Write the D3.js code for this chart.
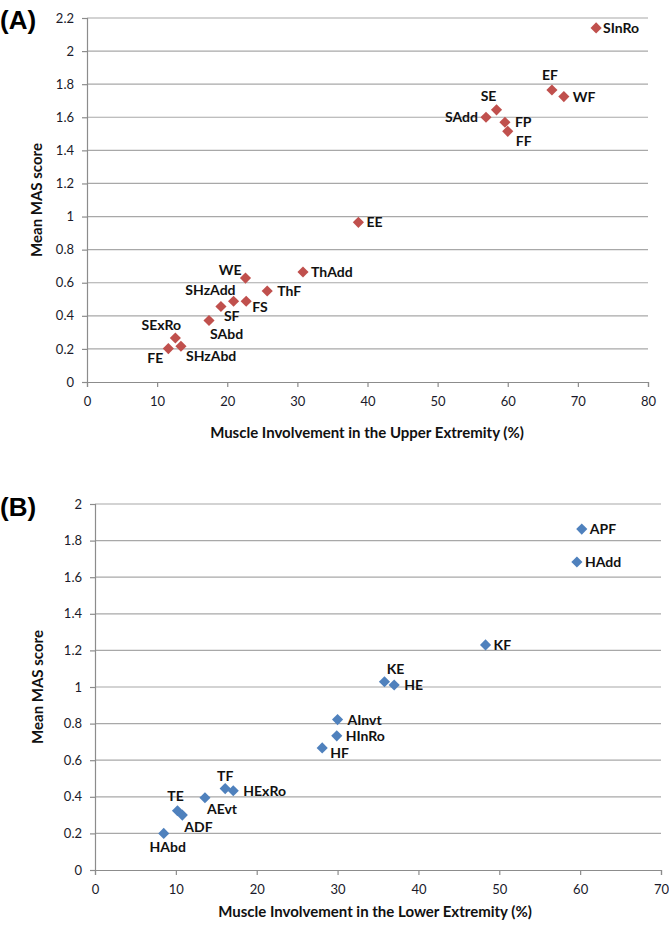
<!DOCTYPE html>
<html>
<head>
<meta charset="utf-8">
<script src="https://cdn.jsdelivr.net/npm/d3@7"></script>
<style>
  body { margin: 0; background: #fff; }
  svg { display: block; }
  .tick text { font-family: Lato, "Open Sans", sans-serif; font-size: 13px; fill: #1a1a2a; }
  .ptlabel { font-family: Lato, sans-serif; font-weight: bold; font-size: 14px; fill: #111; }
  .axtitle { font-family: Lato, sans-serif; font-weight: bold; font-size: 15px; fill: #111; }
  .panel { font-family: "Liberation Sans", Arial, sans-serif; font-weight: bold; font-size: 26px; fill: #000; }
</style>
</head>
<body>
<svg id="canvas" width="669" height="928"></svg>
<script>
'use strict';

/* panel A: upper extremity muscles */
const musclesA = ['SInRo','EF','WF','SE','SAdd','FP','FF','EE','ThAdd','WE','ThF','FS',
                  'SHzAdd','SF','SAbd','SExRo','SHzAbd','FE'];
const involvementA = [72.6, 66.3, 68.0, 58.4, 56.9, 59.6, 60.0, 38.7, 30.8, 22.6, 25.7, 22.7,
                      20.9, 19.1, 17.4, 12.6, 13.4, 11.6];
const masA = [2.14, 1.765, 1.725, 1.645, 1.60, 1.57, 1.515, 0.965, 0.665, 0.628, 0.55, 0.488,
              0.488, 0.456, 0.372, 0.266, 0.216, 0.202];
const xTicksA = [0, 10, 20, 30, 40, 50, 60, 70, 80];
const yTicksA = [0, 0.2, 0.4, 0.6, 0.8, 1, 1.2, 1.4, 1.6, 1.8, 2, 2.2];

/* panel B: lower extremity muscles */
const musclesB = ['APF','HAdd','KF','KE','HE','AInvt','HInRo','HF','TF','HExRo','AEvt','TE','ADF','HAbd'];
const involvementB = [60.2, 59.6, 48.3, 35.8, 37.0, 30.0, 29.9, 28.1, 16.1, 17.1, 13.6, 10.2, 10.8, 8.5];
const masB = [1.863, 1.683, 1.23, 1.029, 1.011, 0.822, 0.733, 0.667, 0.445, 0.433, 0.395, 0.324, 0.30, 0.20];
const xTicksB = [0, 10, 20, 30, 40, 50, 60, 70];
const yTicksB = [0, 0.2, 0.4, 0.6, 0.8, 1, 1.2, 1.4, 1.6, 1.8, 2];

/* where each data label sits relative to its marker: [anchor, dx, dy] */
const placeA = {
  SInRo: ['start', 7, 0], EF: ['middle', -2, -15], WF: ['start', 9, 0], SE: ['middle', -8, -14],
  SAdd: ['end', -8, 0], FP: ['start', 10, 0], FF: ['start', 8, 10], EE: ['start', 8, 0],
  ThAdd: ['start', 8, 0], WE: ['end', -4, -8], ThF: ['start', 10, 0], FS: ['start', 6, 6],
  SHzAdd: ['end', 2, -11], SF: ['start', 3, 9], SAbd: ['start', 1, 14], SExRo: ['middle', -14, -13],
  SHzAbd: ['start', 5, 10], FE: ['end', -5, 9]
};
const placeB = {
  APF: ['start', 8, 0], HAdd: ['start', 8, 0], KF: ['start', 8, 0], KE: ['middle', 11, -13],
  HE: ['start', 10, 0], AInvt: ['start', 10, 0], HInRo: ['start', 9, 0], HF: ['start', 8, 5],
  TF: ['middle', 0, -13], HExRo: ['start', 10, 0], AEvt: ['start', 2, 11], TE: ['middle', -2, -15],
  ADF: ['start', 2, 12], HAbd: ['middle', 4, 14]
};

const svg = d3.select('#canvas');

/* draw one scatter panel */
function drawPanel(cfg){
  const x = d3.scaleLinear().domain(cfg.xDomain).range(cfg.xRange);
  const y = d3.scaleLinear().domain(cfg.yDomain).range(cfg.yRange);
  const g = svg.append('g');

  /* horizontal gridlines */
  g.append('g').selectAll('line')
    .data(cfg.yTicks.filter(d => d > 0))
    .enter().append('line')
      .attr('x1', cfg.xRange[0]).attr('x2', cfg.xRange[1])
      .attr('y1', d => y(d)).attr('y2', d => y(d))
      .attr('stroke', '#a8a8a8').attr('stroke-width', 1.2)
  ;

  /* axes */
  const yAxis = d3.axisLeft(y).tickValues(cfg.yTicks).tickSize(5).tickPadding(8)
    .tickFormat(d3.format('~g'));
  const xAxis = d3.axisBottom(x).tickValues(cfg.xTicks).tickSize(5).tickPadding(10);
  g.append('g').attr('transform', 'translate(' + cfg.xRange[0] + ',0)').call(yAxis);
  g.append('g').attr('transform', 'translate(0,' + cfg.yRange[0] + ')').call(xAxis);
  g.selectAll('.domain, .tick line').attr('stroke', '#8c8c8c').attr('stroke-width', 1.2);

  /* markers */
  const pts = cfg.names.map((n, i) => ({name: n, x: cfg.xs[i], y: cfg.ys[i]}));
  g.append('g').selectAll('path')
    .data(pts).enter().append('path')
      .attr('d', d3.symbol().type(d3.symbolSquare).size(62))
      .attr('transform', d => 'translate(' + x(d.x) + ',' + y(d.y) + ') rotate(45)')
      .attr('fill', cfg.color)
  ;

  /* data labels */
  g.append('g').selectAll('text')
    .data(pts).enter().append('text')
      .attr('class', 'ptlabel')
      .attr('x', d => x(d.x) + cfg.place[d.name][1])
      .attr('y', d => y(d.y) + cfg.place[d.name][2])
      .attr('dy', '0.36em')
      .attr('text-anchor', d => cfg.place[d.name][0])
      .text(d => d.name)
  ;

  /* axis titles and panel letter */
  g.append('text').attr('class', 'axtitle')
    .attr('x', cfg.xTitlePos[0]).attr('y', cfg.xTitlePos[1])
    .attr('text-anchor', 'middle').attr('dy', '0.35em')
    .text(cfg.xTitle);
  g.append('text').attr('class', 'axtitle')
    .attr('transform', 'translate(' + cfg.yTitlePos[0] + ',' + cfg.yTitlePos[1] + ') rotate(-90)')
    .attr('text-anchor', 'middle').attr('dy', '0.35em')
    .text('Mean MAS score');
  g.append('text').attr('class', 'panel')
    .attr('x', 0).attr('y', cfg.letterY).attr('dy', '0.35em')
    .text(cfg.letter);
}

drawPanel({
  names: musclesA, xs: involvementA, ys: masA, place: placeA, color: '#c0504d',
  xDomain: [0, 80], yDomain: [0, 2.2], xRange: [87, 648], yRange: [382, 18],
  xTicks: xTicksA, yTicks: yTicksA,
  xTitle: 'Muscle Involvement in the Upper Extremity (%)', xTitlePos: [367, 433],
  yTitlePos: [37, 200], letter: '(A)', letterY: 20
});

drawPanel({
  names: musclesB, xs: involvementB, ys: masB, place: placeB, color: '#4f81bd',
  xDomain: [0, 70], yDomain: [0, 2], xRange: [95, 661], yRange: [870, 504],
  xTicks: xTicksB, yTicks: yTicksB,
  xTitle: 'Muscle Involvement in the Lower Extremity (%)', xTitlePos: [375, 912],
  yTitlePos: [38, 687], letter: '(B)', letterY: 507
});
</script>
</body>
</html>
